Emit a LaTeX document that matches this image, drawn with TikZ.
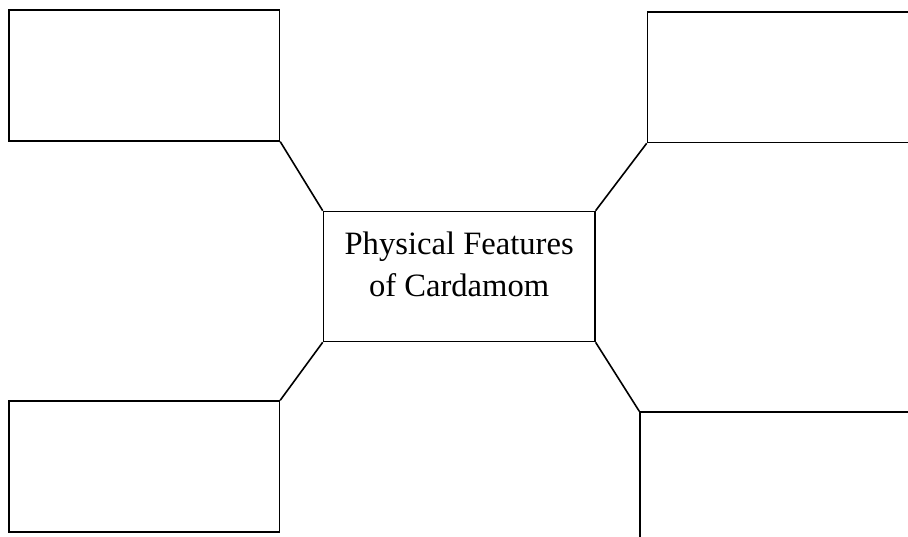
\documentclass[tikz,border=0pt]{standalone}
\usepackage{fontspec}
\setmainfont{Liberation Serif}
\usetikzlibrary{calc}
\definecolor{ink}{RGB}{0,0,0}

\begin{document}
\begin{tikzpicture}[x=1pt, y=-1pt, line width=1.6pt,
  blank/.style={draw=ink, rectangle, inner sep=0pt, anchor=north west},
  hub/.style={draw=ink, rectangle, inner sep=0pt, anchor=north west,
    minimum width=271.3pt, minimum height=130pt}]
\useasboundingbox (0,0) rectangle (908,537);
% empty boxes round the centre
\node[blank, minimum width=270.3pt, minimum height=130.7pt] (tl) at (8.3,9.3) {};
\node[blank, minimum width=280pt, minimum height=130.7pt] (tr) at (646.7,11) {};
\node[blank, minimum width=270.3pt, minimum height=130.7pt] (bl) at (8.3,400.3) {};
\node[blank, minimum width=280pt, minimum height=140pt] (br) at (639.3,411.3) {};
% centre box
\node[hub] (hub) at (322.7,210.7) {};
\node[anchor=north, inner sep=0pt, align=center, text=ink,
  font=\fontsize{32.6}{42}\selectfont] (title) at ($(hub.north)+(0,20.5)$)
  {Physical Features\\of Cardamom};
% connectors
\foreach \a/\b in {tl.south east/hub.north west, tr.south west/hub.north east,
                   bl.north east/hub.south west, br.north west/hub.south east} {
  \draw[ink] (\a) -- (\b);
}
\end{tikzpicture}
\end{document}
